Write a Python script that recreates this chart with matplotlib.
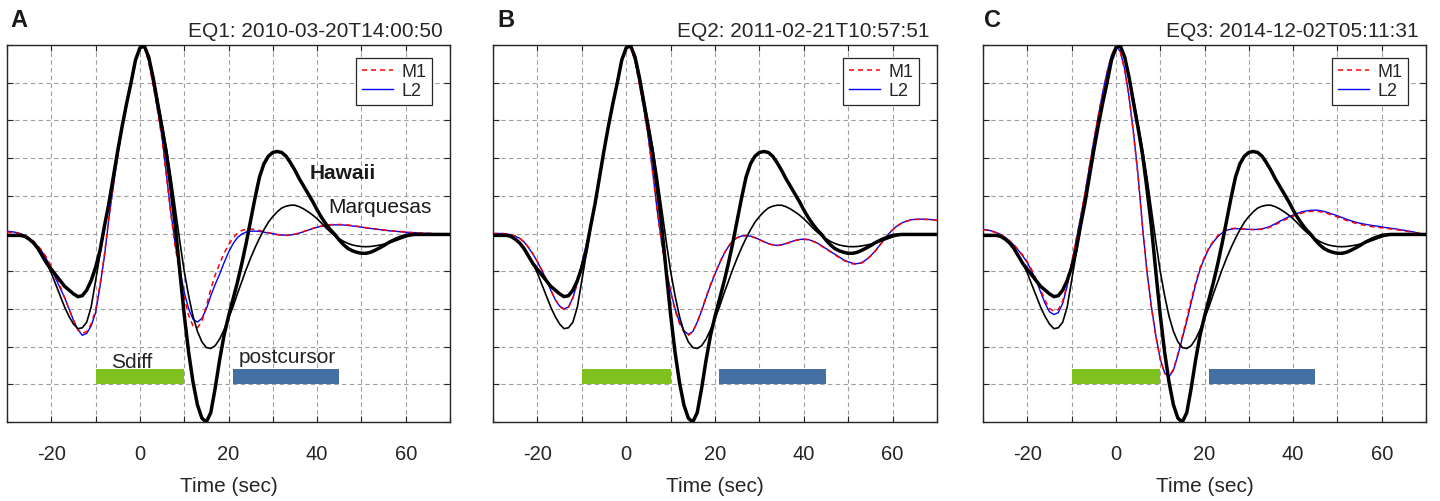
import numpy as np
import matplotlib
matplotlib.use("Agg")
import matplotlib.pyplot as plt

plt.rcParams['font.family'] = ['Liberation Sans', 'DejaVu Sans']

# ---------------- data ----------------
TIME = list(range(-30, 71))  # seconds, 1-s sampling

HAWAII = [
    -0.010, -0.010, -0.010, -0.010, -0.015, -0.030, -0.050, -0.080, -0.120, -0.160,
    -0.190, -0.220, -0.250, -0.280, -0.300, -0.320, -0.335, -0.330, -0.300, -0.250,
    -0.180, -0.090, 0.040, 0.160, 0.300, 0.440, 0.570, 0.690, 0.800, 0.920,
    0.985, 0.995, 0.935, 0.825, 0.690, 0.560, 0.420, 0.240, 0.040, -0.200,
    -0.430, -0.630, -0.790, -0.910, -0.980, -1.000, -0.950, -0.820, -0.670, -0.540,
    -0.440, -0.350, -0.260, -0.160, -0.050, 0.070, 0.190, 0.300, 0.370, 0.410,
    0.430, 0.435, 0.430, 0.410, 0.375, 0.335, 0.290, 0.250, 0.210, 0.170,
    0.125, 0.085, 0.050, 0.020, -0.005, -0.035, -0.060, -0.080, -0.092, -0.100,
    -0.105, -0.105, -0.100, -0.090, -0.078, -0.065, -0.050, -0.038, -0.027, -0.018,
    -0.010, -0.007, -0.005, -0.005, -0.005, -0.005, -0.005, -0.005, -0.005, -0.005,
    -0.005]

MARQUESAS = [
    -0.010, -0.010, -0.010, -0.010, -0.015, -0.030, -0.050, -0.080, -0.120, -0.160,
    -0.210, -0.270, -0.330, -0.390, -0.440, -0.480, -0.505, -0.500, -0.470, -0.390,
    -0.250, -0.110, 0.030, 0.160, 0.300, 0.440, 0.570, 0.690, 0.800, 0.920,
    0.985, 0.995, 0.940, 0.835, 0.710, 0.580, 0.450, 0.300, 0.130, -0.040,
    -0.200, -0.330, -0.440, -0.520, -0.575, -0.605, -0.610, -0.595, -0.560, -0.510,
    -0.450, -0.390, -0.320, -0.255, -0.190, -0.130, -0.075, -0.025, 0.020, 0.060,
    0.090, 0.115, 0.135, 0.145, 0.150, 0.150, 0.142, 0.130, 0.115, 0.098,
    0.078, 0.055, 0.030, 0.008, -0.012, -0.028, -0.042, -0.053, -0.061, -0.066,
    -0.069, -0.070, -0.069, -0.066, -0.062, -0.057, -0.051, -0.044, -0.036, -0.027,
    -0.019, -0.012, -0.008, -0.005, -0.005, -0.005, -0.005, -0.005, -0.005, -0.005,
    -0.005]

L2_EQ1 = [
    0.012, 0.010, 0.006, 0.000, -0.010, -0.025, -0.045, -0.070, -0.100, -0.140,
    -0.185, -0.240, -0.290, -0.340, -0.400, -0.460, -0.510, -0.540, -0.530, -0.490,
    -0.420, -0.280, -0.120, 0.080, 0.250, 0.410, 0.560, 0.690, 0.810, 0.925,
    0.990, 0.990, 0.915, 0.790, 0.660, 0.510, 0.310, 0.110, -0.060, -0.190,
    -0.310, -0.400, -0.455, -0.470, -0.450, -0.400, -0.330, -0.270, -0.215, -0.155,
    -0.100, -0.055, -0.022, -0.003, 0.008, 0.012, 0.013, 0.011, 0.007, 0.003,
    -0.001, -0.005, -0.008, -0.009, -0.008, -0.004, 0.002, 0.010, 0.018, 0.026,
    0.033, 0.038, 0.042, 0.045, 0.046, 0.046, 0.045, 0.043, 0.040, 0.037,
    0.034, 0.030, 0.027, 0.024, 0.021, 0.018, 0.015, 0.013, 0.011, 0.009,
    0.007, 0.005, 0.004, 0.002, 0.001, 0.000, -0.001, -0.002, -0.003, -0.004,
    -0.005]

M1_EQ1 = [
    0.008, 0.006, 0.003, -0.002, -0.010, -0.022, -0.040, -0.065, -0.095, -0.130,
    -0.175, -0.225, -0.280, -0.340, -0.400, -0.460, -0.510, -0.530, -0.520, -0.480,
    -0.405, -0.270, -0.110, 0.085, 0.255, 0.415, 0.565, 0.695, 0.815, 0.925,
    0.990, 0.985, 0.910, 0.785, 0.650, 0.500, 0.300, 0.100, -0.075, -0.215,
    -0.340, -0.435, -0.490, -0.500, -0.465, -0.385, -0.295, -0.220, -0.160, -0.105,
    -0.060, -0.025, 0.002, 0.016, 0.023, 0.024, 0.021, 0.016, 0.010, 0.004,
    -0.001, -0.006, -0.009, -0.010, -0.008, -0.004, 0.003, 0.011, 0.019, 0.027,
    0.034, 0.040, 0.044, 0.047, 0.048, 0.048, 0.047, 0.045, 0.042, 0.039,
    0.035, 0.031, 0.028, 0.025, 0.022, 0.019, 0.016, 0.014, 0.012, 0.010,
    0.008, 0.006, 0.004, 0.003, 0.002, 0.001, 0.000, -0.001, -0.002, -0.003,
    -0.004]

L2_EQ2 = [
    0.000, 0.000, 0.000, -0.002, -0.006, -0.014, -0.026, -0.045, -0.075, -0.110,
    -0.150, -0.195, -0.245, -0.300, -0.350, -0.385, -0.400, -0.390, -0.340, -0.260,
    -0.160, -0.060, 0.040, 0.170, 0.310, 0.450, 0.575, 0.700, 0.815, 0.925,
    0.990, 0.990, 0.915, 0.790, 0.660, 0.510, 0.320, 0.120, -0.050, -0.190,
    -0.305, -0.400, -0.470, -0.515, -0.535, -0.520, -0.470, -0.410, -0.340, -0.275,
    -0.215, -0.160, -0.110, -0.070, -0.040, -0.022, -0.013, -0.011, -0.014, -0.022,
    -0.032, -0.043, -0.053, -0.060, -0.063, -0.060, -0.053, -0.045, -0.037, -0.032,
    -0.030, -0.032, -0.040, -0.050, -0.065, -0.080, -0.095, -0.110, -0.125, -0.140,
    -0.150, -0.158, -0.160, -0.155, -0.140, -0.120, -0.095, -0.065, -0.035, -0.005,
    0.020, 0.040, 0.055, 0.065, 0.072, 0.075, 0.076, 0.076, 0.075, 0.073,
    0.070]

M1_EQ2 = [
    0.000, 0.000, 0.000, -0.002, -0.006, -0.013, -0.025, -0.044, -0.073, -0.108,
    -0.148, -0.193, -0.243, -0.298, -0.350, -0.388, -0.403, -0.392, -0.342, -0.262,
    -0.162, -0.060, 0.040, 0.170, 0.310, 0.450, 0.575, 0.700, 0.815, 0.925,
    0.990, 0.988, 0.912, 0.788, 0.656, 0.505, 0.315, 0.115, -0.055, -0.195,
    -0.312, -0.408, -0.478, -0.522, -0.540, -0.522, -0.470, -0.405, -0.335, -0.270,
    -0.210, -0.156, -0.107, -0.068, -0.039, -0.022, -0.014, -0.012, -0.015, -0.023,
    -0.033, -0.044, -0.054, -0.061, -0.064, -0.061, -0.054, -0.046, -0.038, -0.033,
    -0.031, -0.033, -0.041, -0.052, -0.067, -0.082, -0.097, -0.113, -0.128, -0.143,
    -0.153, -0.161, -0.163, -0.157, -0.142, -0.121, -0.096, -0.066, -0.036, -0.006,
    0.019, 0.039, 0.054, 0.064, 0.071, 0.074, 0.075, 0.075, 0.074, 0.072,
    0.069]

L2_EQ3 = [
    0.022, 0.019, 0.013, 0.005, -0.005, -0.020, -0.040, -0.062, -0.090, -0.120,
    -0.155, -0.200, -0.250, -0.310, -0.370, -0.415, -0.430, -0.420, -0.370, -0.280,
    -0.160, -0.040, 0.080, 0.210, 0.350, 0.490, 0.620, 0.745, 0.855, 0.945,
    0.995, 0.965, 0.870, 0.720, 0.530, 0.310, 0.040, -0.200, -0.385, -0.540,
    -0.665, -0.740, -0.760, -0.725, -0.645, -0.555, -0.465, -0.365, -0.270, -0.190,
    -0.130, -0.080, -0.045, -0.017, 0.004, 0.017, 0.023, 0.026, 0.025, 0.023,
    0.022, 0.021, 0.022, 0.025, 0.031, 0.040, 0.052, 0.065, 0.077, 0.088,
    0.098, 0.107, 0.115, 0.120, 0.123, 0.124, 0.122, 0.117, 0.110, 0.102,
    0.094, 0.085, 0.076, 0.068, 0.061, 0.055, 0.050, 0.046, 0.042, 0.039,
    0.035, 0.031, 0.028, 0.025, 0.021, 0.017, 0.013, 0.009, 0.004, -0.002,
    -0.008]

M1_EQ3 = [
    0.020, 0.017, 0.012, 0.004, -0.006, -0.020, -0.039, -0.060, -0.087, -0.116,
    -0.150, -0.193, -0.242, -0.298, -0.355, -0.398, -0.412, -0.404, -0.358, -0.272,
    -0.155, -0.036, 0.083, 0.212, 0.352, 0.492, 0.622, 0.746, 0.856, 0.945,
    0.995, 0.963, 0.866, 0.715, 0.524, 0.305, 0.035, -0.205, -0.390, -0.545,
    -0.668, -0.742, -0.758, -0.720, -0.638, -0.545, -0.452, -0.352, -0.260, -0.182,
    -0.124, -0.075, -0.040, -0.012, 0.008, 0.020, 0.026, 0.028, 0.027, 0.024,
    0.022, 0.021, 0.021, 0.023, 0.028, 0.036, 0.047, 0.059, 0.071, 0.082,
    0.092, 0.101, 0.109, 0.114, 0.117, 0.118, 0.116, 0.111, 0.104, 0.096,
    0.088, 0.079, 0.070, 0.062, 0.055, 0.049, 0.044, 0.040, 0.036, 0.033,
    0.030, 0.027, 0.024, 0.021, 0.018, 0.014, 0.010, 0.006, 0.001, -0.004,
    -0.010]

M1_SERIES = [M1_EQ1, M1_EQ2, M1_EQ3]
L2_SERIES = [L2_EQ1, L2_EQ2, L2_EQ3]
PANEL_LETTERS = ['A', 'B', 'C']
TITLES = ['EQ1: 2010-03-20T14:00:50', 'EQ2: 2011-02-21T10:57:51',
          'EQ3: 2014-12-02T05:11:31']
SDIFF_WINDOW = (-10, 10)
POSTCURSOR_WINDOW = (21, 45)
XTICKS = list(range(-30, 71, 10))
YTICKS = [-1.0, -0.8, -0.6, -0.4, -0.2, 0.0, 0.2, 0.4, 0.6, 0.8, 1.0]

# ---------------- figure ----------------
W, H = 1440, 502
fig = plt.figure(figsize=(W / 100, H / 100), dpi=100)

AX_LEFT_PX = [7, 493, 983]
AX_WIDTH_PX = [443, 444, 443]
AX_TOP_PX, AX_BOT_PX = 46, 423
LETTER_X_PX = [10, 497, 984]

TXT = '#262626'
GREEN = '#80C11F'
BLUE_BAR = '#4470A4'

for i in range(3):
    ax = fig.add_axes([AX_LEFT_PX[i] / W, (H - AX_BOT_PX) / H,
                       AX_WIDTH_PX[i] / W, (AX_BOT_PX - AX_TOP_PX) / H])
    ax.set_xlim(-30, 70)
    ax.set_ylim(-1, 1)
    ax.set_xticks(XTICKS)
    ax.set_xticklabels([str(v) if v % 20 == 0 else '' for v in XTICKS])
    ax.set_yticks(YTICKS)
    ax.set_yticklabels([])
    ax.tick_params(direction='in', top=True, right=True, length=4.5, width=0.8,
                   color=TXT, labelcolor=TXT, labelsize=14.5, pad=15.5)
    ax.grid(True, linestyle=(0, (4, 3)), color='#a0a0a0', linewidth=0.8)
    ax.set_axisbelow(True)
    for sp in ax.spines.values():
        sp.set_color(TXT)
        sp.set_linewidth(1.0)

    # windows
    ax.barh(-0.76, SDIFF_WINDOW[1] - SDIFF_WINDOW[0], left=SDIFF_WINDOW[0],
            height=0.08, color=GREEN, zorder=2)
    ax.barh(-0.76, POSTCURSOR_WINDOW[1] - POSTCURSOR_WINDOW[0],
            left=POSTCURSOR_WINDOW[0], height=0.08, color=BLUE_BAR, zorder=2)

    l2, = ax.plot(TIME, L2_SERIES[i], color='#0000FF', lw=1.0, zorder=3, label='L2')
    m1, = ax.plot(TIME, M1_SERIES[i], color='#FF0000', lw=1.1,
                  linestyle=(0, (3.3, 2.6)), zorder=4, label='M1')
    ax.plot(TIME, MARQUESAS, color='black', lw=1.2, zorder=5)
    ax.plot(TIME, HAWAII, color='black', lw=2.5, zorder=6)

    leg = ax.legend([m1, l2], ['M1', 'L2'], loc='upper right',
                    bbox_to_anchor=(0.959, 0.966), borderaxespad=0,
                    fontsize=13, handlelength=1.75, handletextpad=0.45,
                    borderpad=0.3, labelspacing=0.12, fancybox=False,
                    framealpha=1, edgecolor=TXT)
    leg.get_frame().set_linewidth(0.9)
    for t in leg.get_texts():
        t.set_color(TXT)

    ax.text(0.984, 1.024, TITLES[i], transform=ax.transAxes, ha='right',
            va='baseline', fontsize=15, color=TXT)
    fig.text(LETTER_X_PX[i] / W, (H - 27) / H, PANEL_LETTERS[i], ha='left',
             va='baseline', fontsize=17, fontweight='bold', color='#1a1a1a')

    ax.set_xlabel('Time (sec)', fontsize=15, color=TXT)
    ax.xaxis.set_label_coords(0.5, -0.143)

    if i == 0:
        ax.text(38.4, 0.294, 'Hawaii', fontsize=15, fontweight='bold',
                ha='left', va='baseline', color='#1a1a1a', zorder=7)
        ax.text(42.5, 0.112, 'Marquesas', fontsize=15, ha='left',
                va='baseline', color='#1a1a1a', zorder=7)
        ax.text(-6.6, -0.707, 'Sdiff', fontsize=15, ha='left',
                va='baseline', color=TXT, zorder=7)
        ax.text(22.2, -0.683, 'postcursor', fontsize=15, ha='left',
                va='baseline', color=TXT, zorder=7)

fig.savefig('out.png', dpi=100)
